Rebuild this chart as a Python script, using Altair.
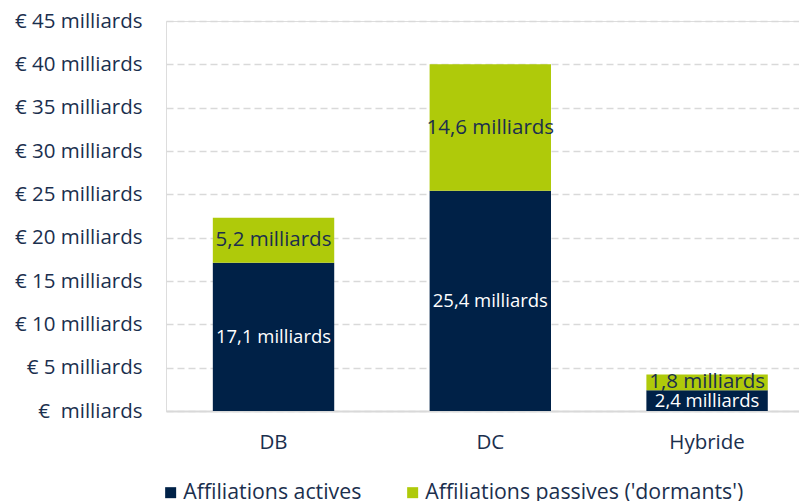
import altair as alt
import pandas as pd

categories = ["DB", "DC", "Hybride"]
actives = [17.1, 25.4, 2.4]
passives = [5.2, 14.6, 1.8]
series_names = ["Affiliations actives", "Affiliations passives ('dormants')"]
colors = ["#002147", "#AFCA0A"]
y_ticks = [0, 5, 10, 15, 20, 25, 30, 35, 40, 45]

rows = []
for i, c in enumerate(categories):
    for k, (name, vals) in enumerate(zip(series_names, [actives, passives])):
        v = vals[i]
        rows.append({
            "cat": c,
            "serie": name,
            "ord": k,
            "value": v,
            "label": f"{v:.1f}".replace(".", ",") + " milliards",
        })
df = pd.DataFrame(rows)

FONT = "Open Sans"
NAVY_TXT = "#1B2F4E"
AX = 20.5

base = alt.Chart(df).transform_stack(
    stack="value", as_=["y0", "y1"], groupby=["cat"], sort=[alt.SortField("ord", order="ascending")]
).transform_calculate(mid="(datum.y0 + datum.y1) / 2")

xscale = alt.Scale(paddingInner=0.44, paddingOuter=0.18, align=0.6)

x = alt.X(
    "cat:N",
    sort=categories,
    scale=xscale,
    axis=alt.Axis(
        title=None, labelAngle=0, labelFontSize=AX, labelColor=NAVY_TXT, labelFont=FONT,
        labelPadding=21, ticks=False, domainColor="#D9D9D9", domainWidth=2,
    ),
)

bars = base.mark_bar().encode(
    x=x,
    y=alt.Y(
        "y0:Q",
        scale=alt.Scale(domain=[0, 45], nice=False),
        axis=alt.Axis(
            title=None, values=y_ticks, ticks=False, domain=False,
            labelExpr="datum.value == 0 ? '€\u00a0\u00a0milliards' : '€ ' + datum.value + ' milliards'",
            labelFontSize=AX, labelColor=NAVY_TXT, labelFont=FONT, labelPadding=24,
            gridColor="#D9D9D9", gridDash=[7, 4], gridWidth=1.5,
        ),
    ),
    y2="y1:Q",
    color=alt.Color(
        "serie:N",
        scale=alt.Scale(domain=series_names, range=colors),
        legend=alt.Legend(
            title=None, orient="none", legendX=-6, legendY=461, direction="horizontal",
            symbolType="square", symbolSize=121, symbolStrokeWidth=0, labelFontSize=21.3,
            labelColor=NAVY_TXT, labelFont=FONT, columnPadding=40, labelLimit=400,
            labelOffset=2,
        ),
    ),
)

labels_act = base.transform_filter("datum.ord == 0").mark_text(
    fontSize=18.5, font=FONT, color="white"
).encode(x=alt.X("cat:N", sort=categories), y="mid:Q", text="label:N")

labels_pas = base.transform_filter("datum.ord == 1").mark_text(
    fontSize=20.5, font=FONT, color=NAVY_TXT
).encode(x=alt.X("cat:N", sort=categories), y="mid:Q", text="label:N")

chart = alt.layer(bars, labels_act, labels_pas).properties(
    width=633, height=390,
    padding={"top": 3, "left": 6, "right": 0, "bottom": 0},
).configure_view(stroke=None).configure(font=FONT)

chart.save("out.html", embed_options={"renderer": "svg", "actions": False})
